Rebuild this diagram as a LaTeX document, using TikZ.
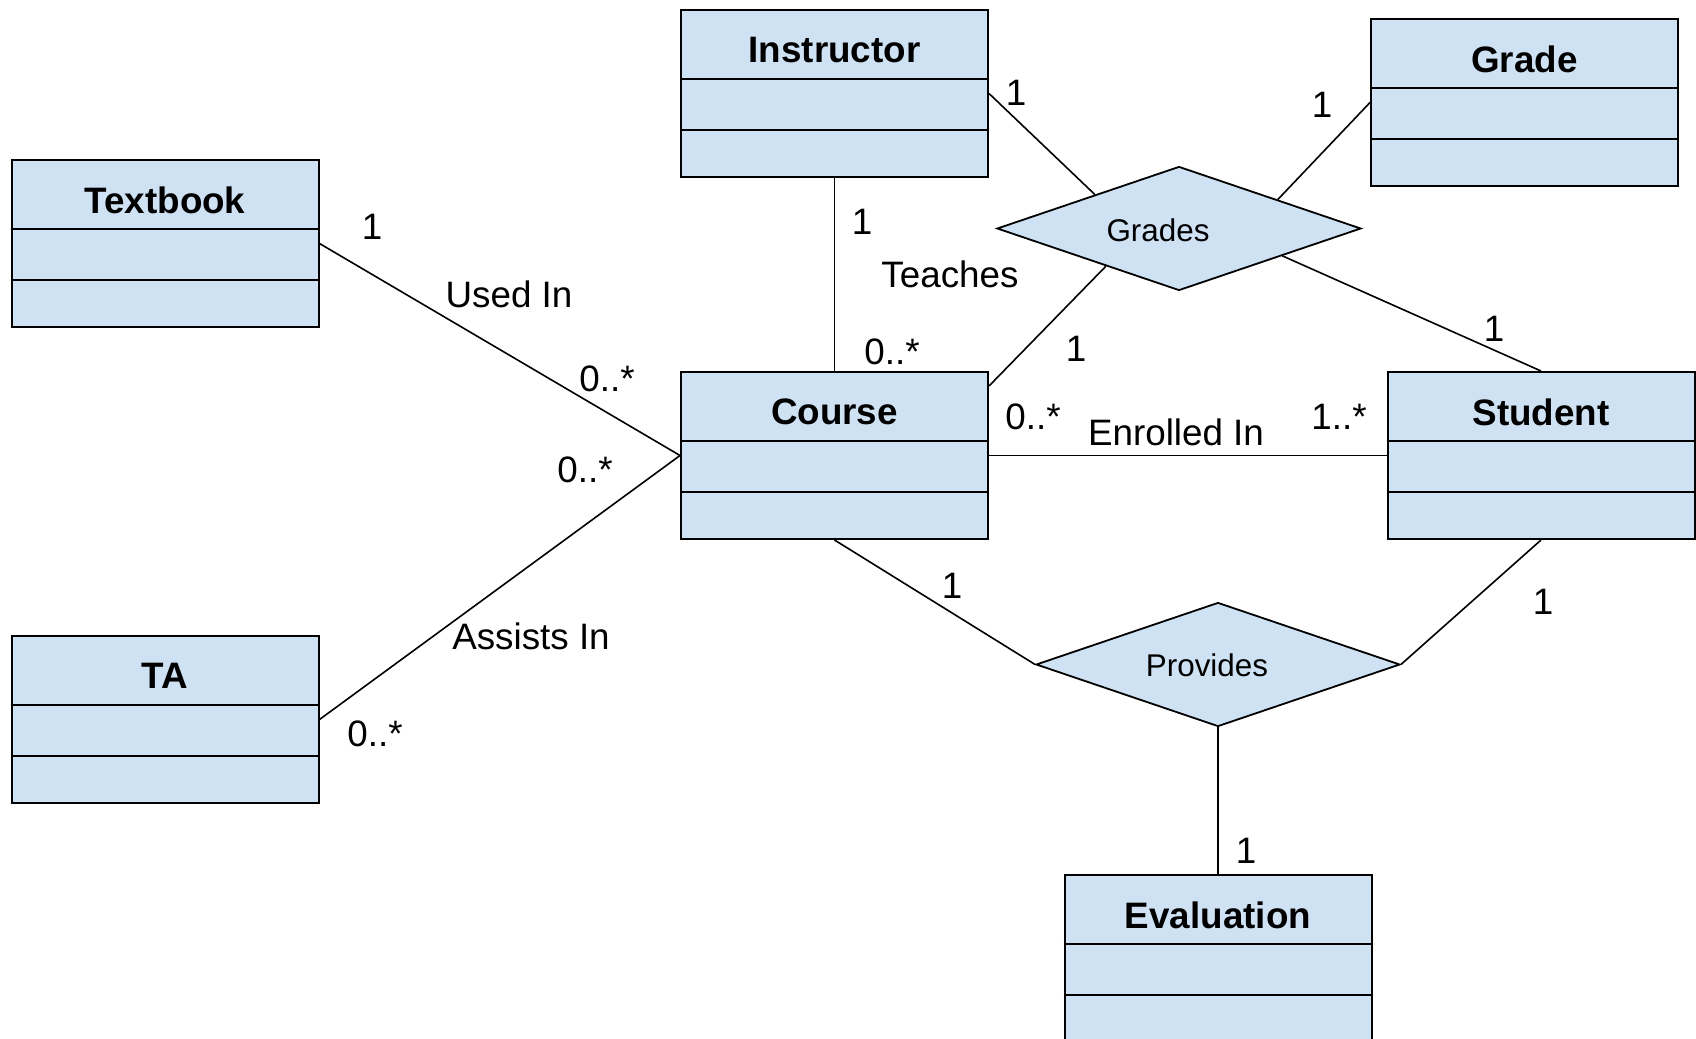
\documentclass[tikz,border=0pt]{standalone}
\usepackage{fontspec}
\setmainfont{Liberation Sans}
\usetikzlibrary{shapes.geometric,calc}
\definecolor{boxblue}{HTML}{CFE2F3}
\tikzset{
  classbox/.style={draw=black, fill=boxblue, line width=1pt, rectangle, inner sep=0pt,
    minimum width=153.5pt, minimum height=83.5pt},
  divline/.style={draw=black, line width=1pt},
  ctitle/.style={font=\fontsize{18.4pt}{22pt}\selectfont\bfseries, inner sep=0pt},
  relshape/.style={draw=black, fill=boxblue, line width=0.9pt, diamond, inner sep=0pt,
    minimum width=182pt, minimum height=62pt, font=\fontsize{15.7pt}{19pt}\selectfont},
  conn/.style={draw=black, line width=0.8pt},
  lbl/.style={font=\fontsize{18.4pt}{22pt}\selectfont, inner sep=0pt},
}
\newcommand\umlclass[4]{%
  \node[classbox, anchor=north] (#1) at (#2,#3) {};
  \draw[divline] ([yshift=-35pt]#1.north west) -- ([yshift=-35pt]#1.north east);
  \draw[divline] ([yshift=-60.5pt]#1.north west) -- ([yshift=-60.5pt]#1.north east);
  \node[ctitle] (#1-t) at ([yshift=-20.5pt]#1.north) {#4};
}
\begin{document}
\begin{tikzpicture}[x=0.5pt,y=-0.5pt]
\useasboundingbox (0,0) rectangle (1696,1038);
\fill[white] (0,0) rectangle (1696,1038);

\umlclass{instructor}{834.5}{9}{Instructor}
\umlclass{grade}{1524.5}{18}{Grade}
\umlclass{textbook}{165}{159}{Textbook}
\umlclass{course}{834.5}{371}{Course}
\umlclass{student}{1541}{371}{Student}
\umlclass{ta}{165}{635}{TA}
\umlclass{evaluation}{1218}{874}{Evaluation}

\node[relshape] (grades) at (1179,228.5) {};
\node[font=\fontsize{15.7pt}{19pt}\selectfont, inner sep=0pt] (grades-t) at (1158,230) {Grades};
\node[relshape] (provides) at (1218,664.5) {};
\node[font=\fontsize{15.7pt}{19pt}\selectfont, inner sep=0pt] (provides-t) at (1207,665) {Provides};

% connectors
\draw[conn] (textbook.east) -- (course.west);
\draw[conn] (ta.east) -- (course.west);
\draw[conn] (instructor.south) -- (course.north);
\draw[conn] (instructor.east) -- ($(grades.west)!0.54!(grades.north)$);
\draw[conn] (grade.west) -- ($(grades.north)!0.54!(grades.east)$);
\draw[conn] ($(grades.south)!0.565!(grades.east)$) -- (student.north);
\draw[conn] ($(grades.west)!0.6!(grades.south)$) -- ([yshift=-7.5pt]course.north east);
\draw[conn] (course.east) -- (student.west);
\draw[conn] (course.south) -- (provides.west);
\draw[conn] (student.south) -- (provides.east);
\draw[conn] (provides.south) -- (evaluation.north);

% labels
\node[lbl] (l1) at (372,227) {1};
\node[lbl] (l2) at (509,294) {Used In};
\node[lbl] (l3) at (607,379) {0..*};
\node[lbl] (l4) at (585,470) {0..*};
\node[lbl] (l5) at (531,636) {Assists In};
\node[lbl] (l6) at (375,734) {0..*};
\node[lbl] (l7) at (862,222) {1};
\node[lbl] (l8) at (950,274) {Teaches};
\node[lbl] (l9) at (892,352) {0..*};
\node[lbl] (l10) at (1016,93) {1};
\node[lbl] (l11) at (1322,105) {1};
\node[lbl] (l12) at (1076,349) {1};
\node[lbl] (l13) at (1494,329) {1};
\node[lbl] (l14) at (1033,417) {0..*};
\node[lbl] (l15) at (1176,432) {Enrolled In};
\node[lbl] (l16) at (1339,417) {1..*};
\node[lbl] (l17) at (952,586) {1};
\node[lbl] (l18) at (1543,602) {1};
\node[lbl] (l19) at (1246,851) {1};
\end{tikzpicture}
\end{document}
